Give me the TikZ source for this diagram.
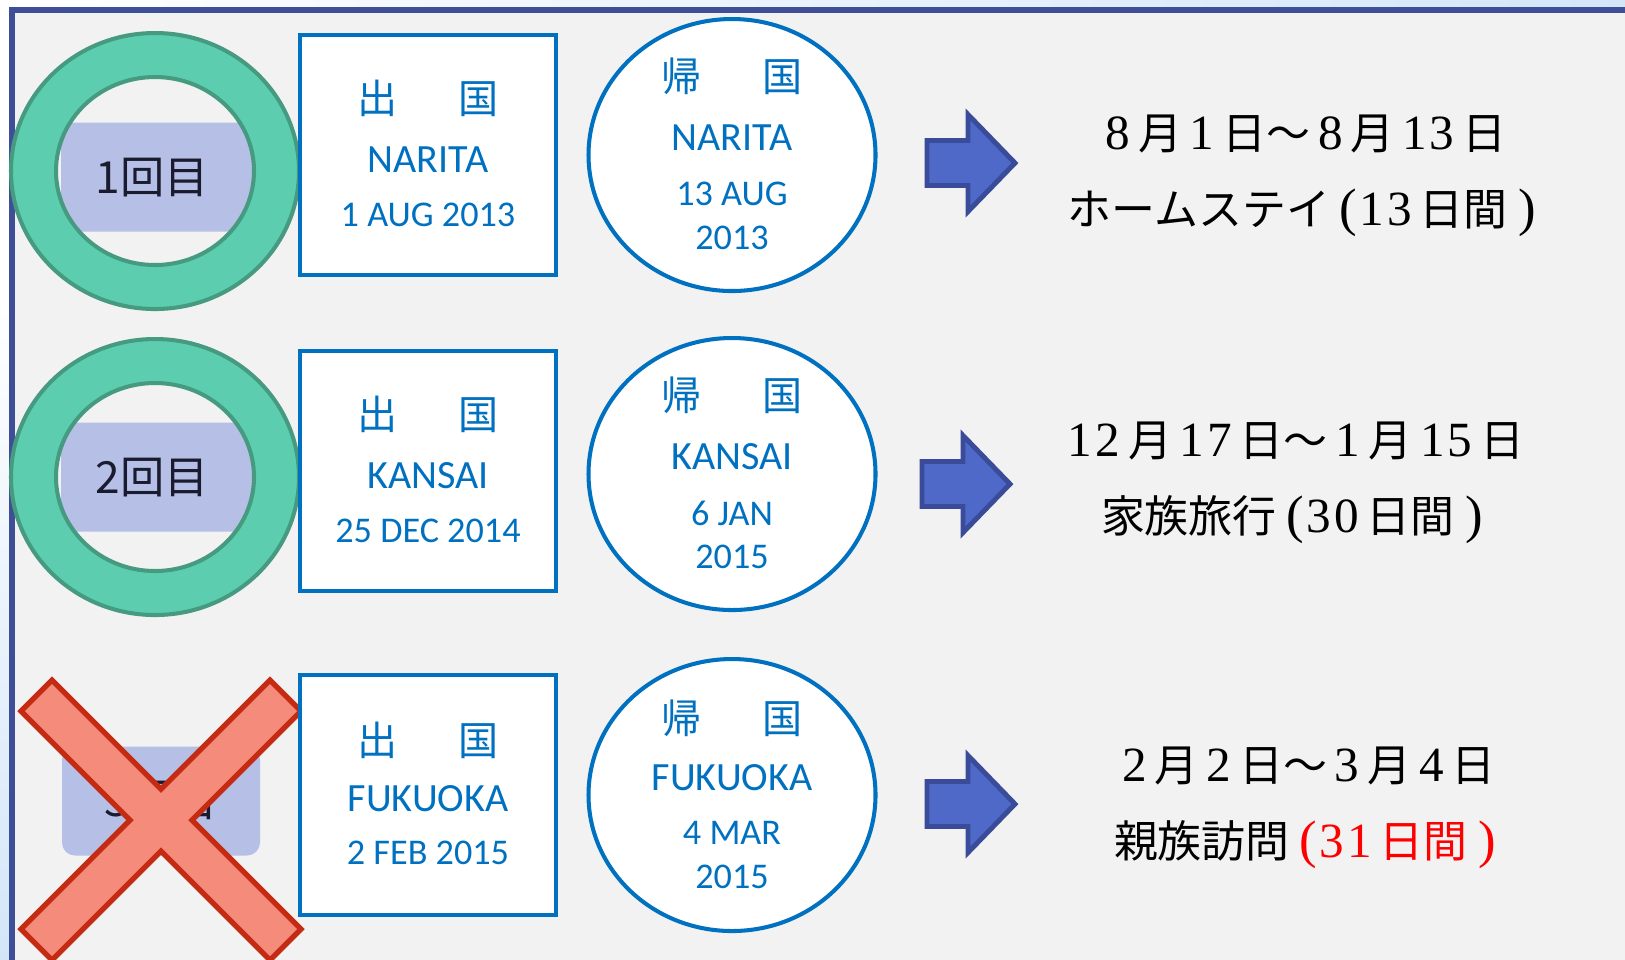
\documentclass[tikz,border=0pt]{standalone}
\usepackage{fontspec}
\setmainfont{Liberation Serif}
\newfontfamily\jpfont{Noto Sans CJK JP}
\newfontfamily\stampfont{Carlito}
\newfontfamily\numfont[LetterSpace=6]{Liberation Serif}
\usepackage{xcolor}
\usetikzlibrary{calc, shapes.geometric}

\definecolor{panelgray}{HTML}{F2F2F2}
\definecolor{frameblue}{HTML}{3E4F98}
\definecolor{skyblue}{HTML}{D3E6F8}
\definecolor{stampblue}{HTML}{0070C0}
\definecolor{ringfill}{HTML}{5DCDB0}
\definecolor{ringline}{HTML}{459A80}
\definecolor{tagfill}{HTML}{B6C0E7}
\definecolor{tagink}{HTML}{1B1B30}
\definecolor{crossfill}{HTML}{F58B7A}
\definecolor{crossline}{HTML}{C42B12}
\definecolor{arrowfill}{HTML}{4F69C8}
\definecolor{arrowline}{HTML}{3A4B99}

\newcommand{\fsize}[2]{\fontsize{#1pt}{#2pt}\selectfont}
\newcommand{\digits}[1]{\hspace{0.18em}{\numfont\fsize{14}{21.6}#1}\hspace{0.18em}}
\newcommand{\openp}{\hspace{0.22em}{\rmfamily\fsize{15}{21.6}(}\hspace{-0.12em}}
\newcommand{\closep}{\hspace{0.25em}{\rmfamily\fsize{15}{21.6})}}

\begin{document}
\begin{tikzpicture}[x=0.1mm, y=-0.1mm,
    stampbox/.style={draw=stampblue, line width=1.15pt, fill=white, inner sep=0pt},
    stampkanji/.style={text=stampblue, font=\jpfont\fsize{11.4}{12}, inner sep=0pt},
    stampport/.style={text=stampblue, font=\stampfont\fsize{11.4}{12}, inner sep=0pt},
    stampdate/.style={text=stampblue, font=\stampfont\fsize{10.3}{11}, inner sep=0pt},
    tagbox/.style={fill=tagfill, rounded corners=1.3mm, minimum width=19.8mm, minimum height=10.9mm, inner sep=0pt},
    tagtext/.style={text=tagink, font=\jpfont\fsize{12.6}{13}, inner sep=0pt},
    ring/.style={fill=ringfill, draw=ringline, line width=1.15pt, even odd rule},
    crossmark/.style={fill=crossfill, draw=crossline, line width=1.5pt, line join=miter},
    arrowbody/.style={fill=arrowfill, draw=arrowline, line width=1.4pt, line join=miter},
    period/.style={font=\jpfont\fsize{12.5}{21.6}, align=center, inner sep=0pt},
    blockarrow/.pic={
        \draw[arrowbody] (0,-22.5) -- (41,-22.5) -- (41,-48.5) -- (88,0)
            -- (41,48.5) -- (41,22.5) -- (0,22.5) -- cycle;
    }
]
        \useasboundingbox (0,0) rectangle (1625,959);
        % backdrop and panel
        \shade[left color=white, right color=skyblue] (0,0) rectangle (1625,959);
        \shade[top color=white, bottom color=skyblue] (0,300) rectangle (12,959);
        \fill[panelgray] (12,10) rectangle (1700,1000);
        \draw[frameblue, line width=1.45pt] (12,1000) -- (12,10) -- (1700,10);

        \coordinate (R1) at (155,171);
        \coordinate (R2) at (155,477);
        \coordinate (X) at (161,820);
        \coordinate (A1) at (927,163);
        \coordinate (A2) at (922,484);
        \coordinate (A3) at (927,804);

        % first trip
        \node[tagbox] (tag1) at (160,177) {};
        \node[tagtext] (tag1-t) at (152,178) {1回目};
        \path[ring] (R1) ellipse [x radius=144, y radius=138] (R1) ellipse [x radius=99, y radius=94];
        \node[stampbox, minimum width=25.6mm, minimum height=24mm] (out1) at (428,155) {};
        \node[stampkanji] (out1-k) at ($(out1)+(0,-57)$) {出\hspace{1.5em}国};
        \node[stampport] (out1-p) at ($(out1)+(0,5)$) {NARITA};
        \node[stampdate] (out1-d) at ($(out1)+(0,60)$) {1 AUG 2013};
        \node[stampbox, ellipse, minimum width=28.7mm, minimum height=27.2mm] (in1) at (732,155) {};
        \node[stampkanji] (in1-k) at ($(in1)+(0,-79)$) {帰\hspace{1.5em}国};
        \node[stampport] (in1-p) at ($(in1)+(0,-17)$) {NARITA};
        \node[stampdate] (in1-d) at ($(in1)+(0,39)$) {13 AUG};
        \node[stampdate] (in1-y) at ($(in1)+(0,83)$) {2013};
        \pic at (A1) {blockarrow};
        \node[period] (p1) at (1302,176) {\digits{8}月\digits{1}日～\digits{8}月\digits{13}日\\ホームステイ\openp\digits{13}日間\closep};

        % second trip
        \node[tagbox] (tag2) at (160,477) {};
        \node[tagtext] (tag2-t) at (152,478) {2回目};
        \path[ring] (R2) ellipse [x radius=144, y radius=138] (R2) ellipse [x radius=99, y radius=94];
        \node[stampbox, minimum width=25.6mm, minimum height=24mm] (out2) at (428,471) {};
        \node[stampkanji] (out2-k) at ($(out2)+(0,-57)$) {出\hspace{1.5em}国};
        \node[stampport] (out2-p) at ($(out2)+(0,5)$) {KANSAI};
        \node[stampdate] (out2-d) at ($(out2)+(0,60)$) {25 DEC 2014};
        \node[stampbox, ellipse, minimum width=28.7mm, minimum height=27.2mm] (in2) at (732,474) {};
        \node[stampkanji] (in2-k) at ($(in2)+(0,-79)$) {帰\hspace{1.5em}国};
        \node[stampport] (in2-p) at ($(in2)+(0,-17)$) {KANSAI};
        \node[stampdate] (in2-d) at ($(in2)+(0,39)$) {6 JAN};
        \node[stampdate] (in2-y) at ($(in2)+(0,83)$) {2015};
        \pic at (A2) {blockarrow};
        \node[period] (p2) at (1292,483) {\digits{12}月\digits{17}日～\digits{1}月\digits{15}日\\家族旅行\openp\digits{30}日間\closep};

        % third trip, struck out
        \node[tagbox] (tag3) at (161,801) {};
        \node[tagtext] (tag3-t) at (161,801) {3回目};
        \draw[crossmark, shift={(X)}] (0,-31) -- (109,-140) -- (140,-109) -- (31,0)
            -- (140,109) -- (109,140) -- (0,31) -- (-109,140) -- (-140,109)
            -- (-31,0) -- (-140,-109) -- (-109,-140) -- cycle;
        \node[stampbox, minimum width=25.6mm, minimum height=24mm] (out3) at (428,795) {};
        \node[stampkanji] (out3-k) at ($(out3)+(0,-55)$) {出\hspace{1.5em}国};
        \node[stampport] (out3-p) at ($(out3)+(0,4)$) {FUKUOKA};
        \node[stampdate] (out3-d) at ($(out3)+(0,58)$) {2 FEB 2015};
        \node[stampbox, ellipse, minimum width=28.7mm, minimum height=27.2mm] (in3) at (732,795) {};
        \node[stampkanji] (in3-k) at ($(in3)+(0,-77)$) {帰\hspace{1.5em}国};
        \node[stampport] (in3-p) at ($(in3)+(0,-17)$) {FUKUOKA};
        \node[stampdate] (in3-d) at ($(in3)+(0,38)$) {4 MAR};
        \node[stampdate] (in3-y) at ($(in3)+(0,82)$) {2015};
        \pic at (A3) {blockarrow};
        \node[period] (p3) at (1305,808) {\digits{2}月\digits{2}日～\digits{3}月\digits{4}日\\親族訪問{\color{red}\openp\digits{31}日間\closep}};
\end{tikzpicture}
\end{document}
